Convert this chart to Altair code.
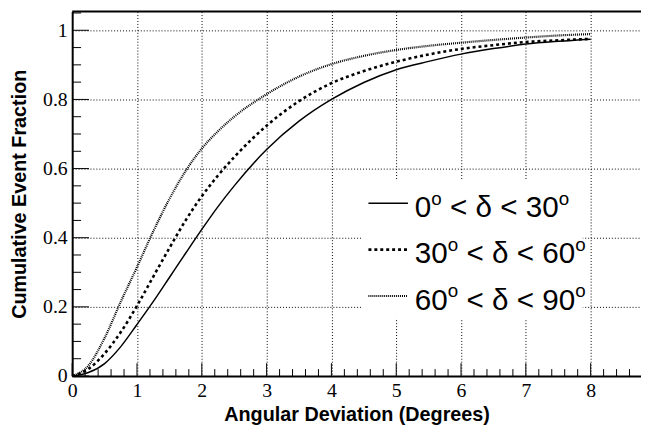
import altair as alt
import pandas as pd

# ---- data ----
x_vals = [0, 0.25, 0.5, 0.75, 1, 1.25, 1.5, 1.75, 2, 2.25, 2.5, 3, 3.5, 4, 4.5, 5, 5.5, 6, 6.5, 7, 7.5, 8]
y_0_30 = [0, 0.010, 0.036, 0.085, 0.149, 0.215, 0.285, 0.355, 0.424, 0.49, 0.55, 0.655, 0.737, 0.80,
          0.849, 0.886, 0.91, 0.931, 0.947, 0.96, 0.968, 0.974]
y_30_60 = [0, 0.02, 0.065, 0.127, 0.203, 0.287, 0.37, 0.45, 0.52, 0.58, 0.633, 0.724, 0.795, 0.847,
           0.882, 0.909, 0.93, 0.946, 0.957, 0.966, 0.971, 0.975]
y_60_90 = [0, 0.03, 0.11, 0.215, 0.315, 0.418, 0.512, 0.593, 0.658, 0.708, 0.75, 0.815, 0.866, 0.902,
           0.926, 0.943, 0.955, 0.964, 0.972, 0.979, 0.985, 0.989]
legend_lo = ["0", "30", "60"]
legend_hi = ["30", "60", "90"]

x_major = [0, 1, 2, 3, 4, 5, 6, 7, 8]
x_minor = [round(i * 0.2, 1) for i in range(0, 44) if i % 5 != 0]
y_major = [0, 0.2, 0.4, 0.6, 0.8, 1]
y_minor = [round(i * 0.05, 2) for i in range(0, 22) if i % 4 != 0]

W, H = 576, 369
XMAX = 8.777
YMAX = 1.054
SERIF = "Liberation Serif, Times New Roman, Times, serif"
SANS = "Liberation Sans"

series = [y_0_30, y_30_60, y_60_90]
styles = [
    dict(strokeWidth=1.5),
    dict(strokeWidth=2.6, strokeDash=[3, 3]),
    dict(strokeWidth=2.2, strokeDash=[1, 1]),
]

x_enc = alt.X(
    "x:Q",
    scale=alt.Scale(domain=[0, XMAX], nice=False, zero=False),
    axis=alt.Axis(
        values=x_major, format="d", title="Angular Deviation (Degrees)",
        grid=True, gridDash=[1, 2], gridColor="black", gridWidth=1,
        ticks=False, domainWidth=2, domainColor="black",
        labelFont=SERIF, labelFontSize=20, labelColor="black",
        labelPadding=5, labelFlush=False,
        titleFont=SANS, titleFontWeight="bold", titleFontSize=20,
        titleColor="black", titleBaseline="alphabetic", titleAlign="center",
        titleX=W / 2, titleY=45,
    ),
)
y_enc = alt.Y(
    "y:Q",
    scale=alt.Scale(domain=[0, YMAX], nice=False, zero=False),
    axis=alt.Axis(
        values=y_major, format="~g", title="Cumulative Event Fraction",
        grid=True, gridDash=[1, 2], gridColor="black", gridWidth=1,
        ticks=False, domainWidth=2, domainColor="black",
        labelFont=SERIF, labelFontSize=20, labelColor="black",
        labelPadding=5,
        titleFont=SANS, titleFontWeight="bold", titleFontSize=20,
        titleColor="black", titleAngle=270, titleBaseline="alphabetic", titleAlign="center",
        titleX=-47, titleY=H / 2,
    ),
)

layers = []
for ys, st in zip(series, styles):
    df = pd.DataFrame({"x": x_vals, "y": ys})
    layers.append(
        alt.Chart(df).mark_line(color="black", interpolate="monotone", **st).encode(x=x_enc, y=y_enc)
    )

# inward ticks (ROOT style)
layers.append(alt.Chart(pd.DataFrame({"x": x_major})).mark_rule(color="black", strokeWidth=1)
              .encode(x=x_enc, y=alt.value(H), y2=alt.value(H - 13)))
layers.append(alt.Chart(pd.DataFrame({"x": x_minor})).mark_rule(color="black", strokeWidth=1)
              .encode(x=x_enc, y=alt.value(H), y2=alt.value(H - 7)))
layers.append(alt.Chart(pd.DataFrame({"y": y_major})).mark_rule(color="black", strokeWidth=1)
              .encode(y=y_enc, x=alt.value(0), x2=alt.value(17)))
layers.append(alt.Chart(pd.DataFrame({"y": y_minor})).mark_rule(color="black", strokeWidth=1)
              .encode(y=y_enc, x=alt.value(0), x2=alt.value(9)))

one = pd.DataFrame({"a": [0]})
# top frame line
layers.append(alt.Chart(one).mark_rule(color="black", strokeWidth=2)
              .encode(x=alt.value(0), x2=alt.value(W), y=alt.value(0)))

# legend box
layers.append(alt.Chart(one).mark_rect(fill="white")
              .encode(x=alt.value(293), x2=alt.value(517), y=alt.value(171), y2=alt.value(311)))

# approximate advance widths (em) of Liberation Sans, used to place the superscripts
CW = {" ": 0.278, "<": 0.584, "δ": 0.556, "o": 0.556}
for d in "0123456789":
    CW[d] = 0.556


def tw(s, size):
    return sum(CW[c] for c in s) * size


F, FS = 30, 19
row_y = [194, 241, 288]
for lo, hi, st, ry in zip(legend_lo, legend_hi, styles, row_y):
    layers.append(alt.Chart(one).mark_rule(color="black", **st)
                  .encode(x=alt.value(300), x2=alt.value(340), y=alt.value(ry)))
    base = ry + 14
    # (text, font size, vertical shift, advance before the text)
    pieces = [(lo, F, 0, 0), ("o", FS, -12.5, 0), ("< δ < " + hi, F, 0, tw(" ", F)), ("o", FS, -12.5, 0)]
    px = 347
    for txt, size, dy, pre in pieces:
        px += pre
        layers.append(alt.Chart(one).mark_text(text=txt, font=SANS, fontSize=size,
                                               color="black", align="left", baseline="alphabetic")
                      .encode(x=alt.value(px), y=alt.value(base + dy)))
        px += tw(txt, size)

chart = alt.layer(*layers).properties(
    width=W, height=H,
    padding={"left": 65, "top": 1, "right": 0, "bottom": 50},
    autosize=alt.AutoSizeParams(type="none"),
).configure_view(strokeWidth=0).configure_axis(labelFont=SERIF)

chart.save("out.html", embed_options={"renderer": "svg", "actions": False})
